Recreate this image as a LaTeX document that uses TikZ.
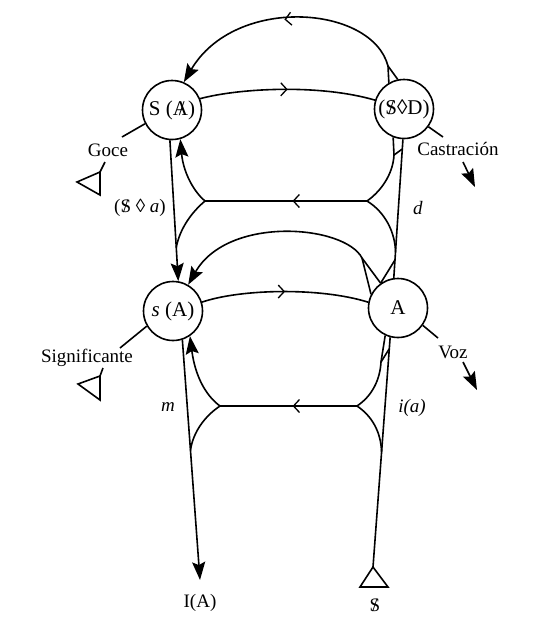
\documentclass[tikz,border=0pt]{standalone}
\usepackage{fontspec}
\setmainfont{Liberation Serif}
\usetikzlibrary{arrows.meta,decorations.markings,calc}

\newcommand{\barS}{\ooalign{S\cr\hidewidth/\hidewidth\cr}}
\newcommand{\barA}{\ooalign{A\cr\hidewidth\kern0.12em/\hidewidth\cr}}

\tikzset{
  lugar/.style={circle,draw,line width=1.6pt,minimum size=59pt,inner sep=0pt,font=\fontsize{21}{24}\selectfont},
  etiq/.style={inner sep=1pt,font=\fontsize{19}{22}\selectfont},
  punta/.style={-{Stealth[length=18pt,width=13pt,inset=3pt]}},
  medio/.style={postaction={decorate},decoration={markings,mark=at position #1 with {\arrow{Straight Barb[length=6pt,width=13pt,line width=1.3pt]}}}},
}

\begin{document}
\begin{tikzpicture}[x=1pt,y=-1pt,line width=1.6pt,line join=miter]
\useasboundingbox (0,0) rectangle (547,619);

% Lugares
\node [lugar] (SA) at (172,110) {S (\barA)};
\node [lugar] (SD) at (404,109) {(\barS◊D)};
\node [lugar] (sA) at (173,311) {\textit{s} (A)};
\node [lugar] (A) at (398,308) {A};

% Etiquetas
\node [etiq] (goce) at (108,150) {Goce};
\node [etiq] (castr) at (458,149) {Castración};
\node [etiq] (signif) at (87,358) {Significante};
\node [etiq] (voz) at (453,352) {Voz};
\node [etiq] (fant) at (140,208) {(\barS\ ◊ \textit{a})};
\node [etiq] (d) at (418,208) {\textit{d}};
\node [etiq] (m) at (168,407) {\textit{m}};
\node [etiq] (ia) at (412,408) {\textit{i(a)}};
\node [etiq] (IA) at (200,603) {I(A)};
\node [etiq] (S) at (375,605) {\barS};

% Piso superior
\coordinate (cTop) at (388,66);
\draw [punta,medio=0.5] (cTop) .. controls (372,5) and (235,-5) .. (SA.67);
\draw (cTop) -- (SD.120);
\draw (cTop) -- (SD.102);
\draw [medio=0.5] (SA.22) .. controls (240,88) and (320,84) .. (SD.163);
\draw [punta] (SA.266) -- (sA.80);
\draw (A.98) -- (SD.268); % d

% Horizontal superior
\coordinate (hsD) at (367,201);
\coordinate (hsI) at (205,201);
\coordinate (cuspSD) at (394,155);
\draw [medio=0.46] (hsD) -- (hsI);
\draw [punta] (hsI) .. controls (192,190) and (183,170) .. (SA.286);
\draw (hsI) .. controls (192,212) and (180,228) .. ($(SA.266)!0.76!(sA.80)$);
\draw (hsD) .. controls (380,192) and (393,175) .. (cuspSD) -- (SD.249);
\draw (cuspSD) -- ($(A.98)!0.93!(SD.268)$);
\draw (hsD) .. controls (385,212) and (395,232) .. ($(A.98)!0.19!(SD.268)$);

% Piso inferior
\coordinate (cArc) at (362,258);
\draw [punta] (A.153) -- (cArc) .. controls (345,225) and (228,215) .. (sA.60);
\draw (cArc) -- (A.125);
\draw ($(A.98)!0.13!(SD.268)$) -- (A.125);
\draw [medio=0.5] (sA.17) .. controls (240,289) and (320,287) .. (A.169);

% Verticales de abajo
\coordinate (IAtip) at (200,580);
\coordinate (Sapex) at (373,567);
\draw [punta] (sA.288) -- (IAtip);
\draw (Sapex) -- (A.255);
\draw (Sapex) -- (360,587) -- (388,587) -- cycle;

% Horizontal inferior
\coordinate (hiD) at (357,406);
\coordinate (hiI) at (220,406);
\coordinate (cuspA) at (381,362);
\draw [medio=0.47] (hiD) -- (hiI);
\draw [punta] (hiI) .. controls (205,395) and (195,375) .. (sA.304);
\draw (hiI) .. controls (205,416) and (193,432) .. ($(sA.288)!0.46!(IAtip)$);
\draw (hiD) .. controls (372,396) and (380,380) .. (cuspA) -- (A.245);
\draw (cuspA) -- ($(A.255)!0.05!(Sapex)$);
\draw (hiD) .. controls (372,416) and (381,432) .. ($(A.255)!0.5!(Sapex)$);

% Goce
\coordinate (goceA) at (122,137);
\coordinate (goceB) at (105,162);
\coordinate (gT) at (100,172);
\draw (SA.207) -- (goceA);
\draw (goceB) -- (gT);
\draw (gT) -- ++(-23,10) -- ++(23,13) -- cycle;

% Significante
\coordinate (sigA) at (120,348);
\coordinate (sigB) at (103,368);
\coordinate (sT) at (100,376);
\draw (sA.210) -- (sigA);
\draw (sigB) -- (sT);
\draw (sT) -- ++(-22,8) -- ++(22,16) -- cycle;

% Castracion
\coordinate (castrA) at (443,137);
\coordinate (castrB) at (463,162);
\coordinate (castrC) at (475,187);
\draw (SD.324) -- (castrA);
\draw [punta] (castrB) -- (castrC);

% Voz
\coordinate (vozA) at (438,338);
\coordinate (vozB) at (463,362);
\coordinate (vozC) at (477,390);
\draw (A.325) -- (vozA);
\draw [punta] (vozB) -- (vozC);

\end{tikzpicture}
\end{document}
